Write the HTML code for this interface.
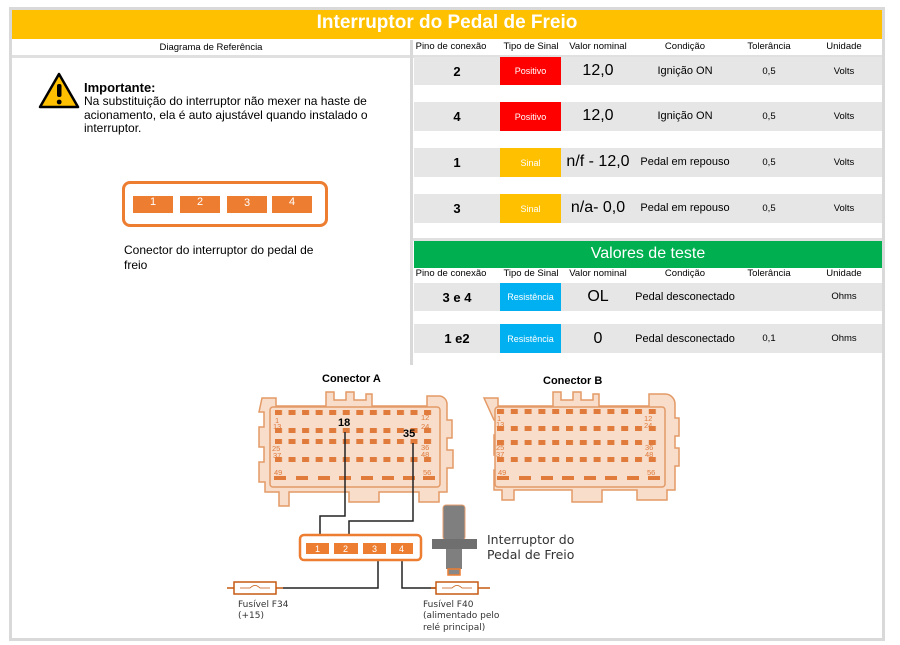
<!DOCTYPE html>
<html><head><meta charset="utf-8"><style>
*{margin:0;padding:0;box-sizing:border-box}
body{width:900px;height:645px;background:#fff;position:relative;overflow:hidden;font-family:"Liberation Sans",sans-serif;color:#000}
.a{position:absolute}
.t{position:absolute;white-space:nowrap}
.row{position:absolute;left:414px;width:468px;background:#e6e6e6}
.c{position:absolute;text-align:center;transform:translateX(-50%);white-space:nowrap}
.tag{position:absolute;left:86px;width:61px;top:0;bottom:0;color:#fff;font-size:9px;display:flex;align-items:center;justify-content:center}
</style></head><body>
<div class="a" style="left:9px;top:7px;width:876px;height:3px;background:#d9d9d9"></div>
<div class="a" style="left:9px;top:7px;width:3px;height:634px;background:#d9d9d9"></div>
<div class="a" style="left:882px;top:7px;width:3px;height:634px;background:#d9d9d9"></div>
<div class="a" style="left:9px;top:638px;width:876px;height:3px;background:#d9d9d9"></div>
<div class="a" style="left:12px;top:10px;width:870px;height:29px;background:#ffc000"></div>
<div class="t" style="left:0;width:894px;top:12px;text-align:center;color:#fff;font-weight:bold;font-size:19px">Interruptor do Pedal de Freio</div>
<div class="a" style="left:12px;top:55px;width:870px;height:3px;background:#e0e0e0"></div>
<div class="a" style="left:410px;top:40px;width:3px;height:325px;background:#d9d9d9"></div>
<div class="t" style="left:12px;width:398px;top:42px;text-align:center;font-size:9.5px">Diagrama de Referência</div>

<div class="a" style="left:414px;top:41px;width:468px;height:14px;font-size:9.5px">
<span class="c" style="left:37px">Pino de conexão</span><span class="c" style="left:117px">Tipo de Sinal</span><span class="c" style="left:184px">Valor nominal</span><span class="c" style="left:271px">Condição</span><span class="c" style="left:355px">Tolerância</span><span class="c" style="left:430px">Unidade</span></div>

<div class="row" style="top:57px;height:28px"><span class="c" style="left:43px;top:7px;font-weight:bold;font-size:13px">2</span><div class="tag" style="background:#ff0000">Positivo</div><span class="c" style="left:184px;top:5px;font-size:16px">12,0</span><span class="c" style="left:271px;top:8px;font-size:11px">Ignição ON</span><span class="c" style="left:355px;top:9px;font-size:9.5px">0,5</span><span class="c" style="left:430px;top:9px;font-size:9.5px">Volts</span></div>
<div class="row" style="top:102px;height:29px"><span class="c" style="left:43px;top:7px;font-weight:bold;font-size:13px">4</span><div class="tag" style="background:#ff0000">Positivo</div><span class="c" style="left:184px;top:5px;font-size:16px">12,0</span><span class="c" style="left:271px;top:8px;font-size:11px">Ignição ON</span><span class="c" style="left:355px;top:9px;font-size:9.5px">0,5</span><span class="c" style="left:430px;top:9px;font-size:9.5px">Volts</span></div>
<div class="row" style="top:148px;height:29px"><span class="c" style="left:43px;top:7px;font-weight:bold;font-size:13px">1</span><div class="tag" style="background:#ffc000">Sinal</div><span class="c" style="left:184px;top:5px;font-size:16px">n/f - 12,0</span><span class="c" style="left:271px;top:8px;font-size:11px">Pedal em repouso</span><span class="c" style="left:355px;top:9px;font-size:9.5px">0,5</span><span class="c" style="left:430px;top:9px;font-size:9.5px">Volts</span></div>
<div class="row" style="top:194px;height:29px"><span class="c" style="left:43px;top:7px;font-weight:bold;font-size:13px">3</span><div class="tag" style="background:#ffc000">Sinal</div><span class="c" style="left:184px;top:5px;font-size:16px">n/a- 0,0</span><span class="c" style="left:271px;top:8px;font-size:11px">Pedal em repouso</span><span class="c" style="left:355px;top:9px;font-size:9.5px">0,5</span><span class="c" style="left:430px;top:9px;font-size:9.5px">Volts</span></div>
<div class="a" style="left:413px;top:238px;width:469px;height:3px;background:#e0e0e0"></div>
<div class="a" style="left:414px;top:241px;width:468px;height:27px;background:#00b050"></div>
<div class="t" style="left:414px;width:468px;top:245px;text-align:center;color:#fff;font-size:16px">Valores de teste</div>
<div class="a" style="left:414px;top:268px;width:468px;height:14px;font-size:9.5px">
<span class="c" style="left:37px">Pino de conexão</span><span class="c" style="left:117px">Tipo de Sinal</span><span class="c" style="left:184px">Valor nominal</span><span class="c" style="left:271px">Condição</span><span class="c" style="left:355px">Tolerância</span><span class="c" style="left:430px">Unidade</span></div>
<div class="row" style="top:283px;height:28px"><span class="c" style="left:43px;top:7px;font-weight:bold;font-size:13px">3 e 4</span><div class="tag" style="background:#00b0f0">Resistência</div><span class="c" style="left:184px;top:5px;font-size:16px">OL</span><span class="c" style="left:271px;top:8px;font-size:11px">Pedal desconectado</span><span class="c" style="left:430px;top:8px;font-size:9.5px">Ohms</span></div>
<div class="row" style="top:324px;height:29px"><span class="c" style="left:43px;top:7px;font-weight:bold;font-size:13px">1 e2</span><div class="tag" style="background:#00b0f0">Resistência</div><span class="c" style="left:184px;top:6px;font-size:16px">0</span><span class="c" style="left:271px;top:9px;font-size:11px">Pedal desconectado</span><span class="c" style="left:355px;top:9px;font-size:9.5px">0,1</span><span class="c" style="left:430px;top:9px;font-size:9.5px">Ohms</span></div>

<svg class="a" style="left:38px;top:72px" width="42" height="38"><path d="M21 2 L40 35 L2 35 Z" fill="#ffc000" stroke="#000" stroke-width="2.5" stroke-linejoin="round"/><rect x="19" y="12" width="4.5" height="13" rx="2" fill="#000"/><circle cx="21.2" cy="30" r="2.4" fill="#000"/></svg>
<div class="t" style="left:84px;top:80px;font-weight:bold;font-size:13px">Importante:</div>
<div class="a" style="left:84px;top:95px;width:300px;font-size:12px;line-height:13.5px">Na substituição do interruptor não mexer na haste de acionamento, ela é auto ajustável quando instalado o interruptor.</div>
<div class="a" style="left:122px;top:181px;width:206px;height:46px;border:3px solid #ed7d31;border-radius:8px"></div>
<div class="a" style="left:133px;top:196px;width:40px;height:17px;background:#ed7d31;color:#fff;font-size:11px;text-align:center;line-height:13px">1</div>
<div class="a" style="left:180px;top:196px;width:40px;height:17px;background:#ed7d31;color:#fff;font-size:11px;text-align:center;line-height:13px">2</div>
<div class="a" style="left:227px;top:196px;width:40px;height:17px;background:#ed7d31;color:#fff;font-size:11px;text-align:center;line-height:15px">3</div>
<div class="a" style="left:272px;top:196px;width:40px;height:17px;background:#ed7d31;color:#fff;font-size:11px;text-align:center;line-height:13px">4</div>
<div class="a" style="left:124px;top:243px;width:200px;font-size:12px;line-height:15px">Conector do interruptor do pedal de freio</div>

<svg class="a" style="left:0;top:0" width="900" height="645">
<defs>
<pattern id="pa" x="275" y="0" width="13.55" height="5" patternUnits="userSpaceOnUse"><rect x="0" y="0" width="7" height="5" fill="#e07b3c"/></pattern>
<pattern id="pb" x="497" y="0" width="13.8" height="5" patternUnits="userSpaceOnUse"><rect x="0" y="0" width="7" height="5" fill="#e07b3c"/></pattern>
</defs>
<g fill="#f7ddca" stroke="#e49a66" stroke-width="1.5">
<path d="M262 398 h14 v8 h50 v-14 h8 v8 h12 v-8 h8 v8 h12 v-6 h6 v12 h55 v-10 h12 a8 8 0 0 1 8 8 v16 h5 v18 h-5 v12 h6 v18 h-6 v24 h-8 v10 h-20 v-10 h-40 v10 h-30 v-10 h-60 v14 h-10 v-14 h-14 v-10 h-6 v-20 h5 v-15 h-5 v-20 h5 v-15 h-5 z"/>
<rect x="270" y="407" width="170" height="80" rx="3"/>
<path d="M484 398 h14 v8 h55 v-14 h8 v8 h12 v-8 h8 v8 h12 v-6 h6 v12 h50 v-12 h16 a10 10 0 0 1 10 10 v14 h4 v18 h-4 v12 h4 v18 h-4 v24 h-8 v10 h-30 v-10 h-35 v12 h-30 v-12 h-58 v10 h-12 v-10 h-8 v-20 h4 v-15 h-4 v-20 h4 v-15 h-4 z"/>
<rect x="495" y="407" width="170" height="80" rx="3"/>
</g>
<g>
<rect x="275" y="410" width="160" height="5" fill="url(#pa)"/>
<rect x="275" y="428" width="160" height="5" fill="url(#pa)"/>
<rect x="275" y="439" width="160" height="5" fill="url(#pa)"/>
<rect x="275" y="457" width="160" height="5" fill="url(#pa)"/>
<rect x="497" y="409" width="163" height="5" fill="url(#pb)"/>
<rect x="497" y="426" width="163" height="5" fill="url(#pb)"/>
<rect x="497" y="440" width="163" height="5" fill="url(#pb)"/>
<rect x="497" y="457" width="163" height="5" fill="url(#pb)"/>
</g>
<g fill="#e07b3c">
<rect x="274" y="476" width="12" height="4"/><rect x="296" y="476" width="12" height="4"/><rect x="318" y="476" width="12" height="4"/><rect x="339" y="476" width="12" height="4"/><rect x="361" y="476" width="12" height="4"/><rect x="382" y="476" width="12" height="4"/><rect x="403" y="476" width="12" height="4"/><rect x="423" y="476" width="12" height="4"/>
<rect x="497" y="476" width="12" height="4"/><rect x="519" y="476" width="12" height="4"/><rect x="541" y="476" width="12" height="4"/><rect x="562" y="476" width="12" height="4"/><rect x="584" y="476" width="12" height="4"/><rect x="605" y="476" width="12" height="4"/><rect x="627" y="476" width="12" height="4"/><rect x="648" y="476" width="12" height="4"/>
</g>
<g font-family="Liberation Sans,sans-serif" font-size="7.5" fill="#e07b3c">
<text x="275" y="423">1</text><text x="273" y="429">13</text><text x="272" y="451">25</text><text x="273" y="458">37</text><text x="274" y="475">49</text>
<text x="421" y="420">12</text><text x="421" y="429">24</text><text x="421" y="450">36</text><text x="421" y="457">48</text><text x="423" y="475">56</text>
<text x="497" y="421">1</text><text x="496" y="427">13</text><text x="496" y="450">25</text><text x="496" y="457">37</text><text x="498" y="475">49</text>
<text x="644" y="421">12</text><text x="644" y="428">24</text><text x="645" y="450">36</text><text x="645" y="457">48</text><text x="647" y="475">56</text>
</g>
<g font-family="Liberation Sans,sans-serif" font-weight="bold" fill="#000">
<text x="322" y="382" font-size="11">Conector A</text>
<text x="543" y="384" font-size="11">Conector B</text>
<text x="338" y="426" font-size="11">18</text>
<text x="403" y="437" font-size="11">35</text>
</g>
<g fill="none" stroke="#222" stroke-width="1.5">
<polyline points="345,432 345,516 320,516 320,543"/>
<polyline points="413,443 413,521 349,521 349,543"/>
<polyline points="378,560 378,588 283,588"/>
<polyline points="402,560 402,588 440,588"/>
</g>
<rect x="300" y="535" width="121" height="25" rx="4" fill="#fff" stroke="#ed7d31" stroke-width="2.5"/>
<g fill="#ed7d31"><rect x="306" y="543" width="23" height="11"/><rect x="334" y="543" width="24" height="11"/><rect x="363" y="543" width="23" height="11"/><rect x="391" y="543" width="22" height="11"/></g>
<g font-family="Liberation Sans,sans-serif" font-size="9" fill="#fff"><text x="315" y="552">1</text><text x="343" y="552">2</text><text x="372" y="552">3</text><text x="399" y="552">4</text></g>
<rect x="443" y="505" width="22" height="35" rx="3" fill="#7f7f7f" stroke="#e8a070" stroke-width="1"/>
<rect x="432" y="539" width="45" height="10" fill="#6f6f6f"/>
<rect x="446" y="549" width="16" height="20" fill="#7f7f7f"/>
<rect x="448" y="569" width="12" height="6" fill="#888" stroke="#ed7d31" stroke-width="1.5"/>
<g font-family="DejaVu Sans,sans-serif" font-size="12.5" fill="#333"><text x="487" y="544">Interruptor do</text><text x="487" y="559">Pedal de Freio</text></g>
<g stroke="#c55a11" stroke-width="1.5" fill="#fff">
<line x1="227" y1="588" x2="283" y2="588"/><rect x="234" y="582" width="42" height="12"/>
<line x1="431" y1="588" x2="490" y2="588"/><rect x="436" y="582" width="42" height="12"/>
</g>
<g stroke="#c55a11" stroke-width="0.8" fill="none"><path d="M240 588 h10 q5 -5 10 0 h10"/><path d="M442 588 h10 q5 -5 10 0 h10"/></g>
<g font-family="DejaVu Sans,sans-serif" font-size="9" fill="#333">
<text x="238" y="607">Fusível F34</text><text x="238" y="618">(+15)</text>
<text x="423" y="607">Fusível F40</text><text x="423" y="618">(alimentado pelo</text><text x="423" y="630">relé principal)</text>
</g>
</svg>
</body></html>
